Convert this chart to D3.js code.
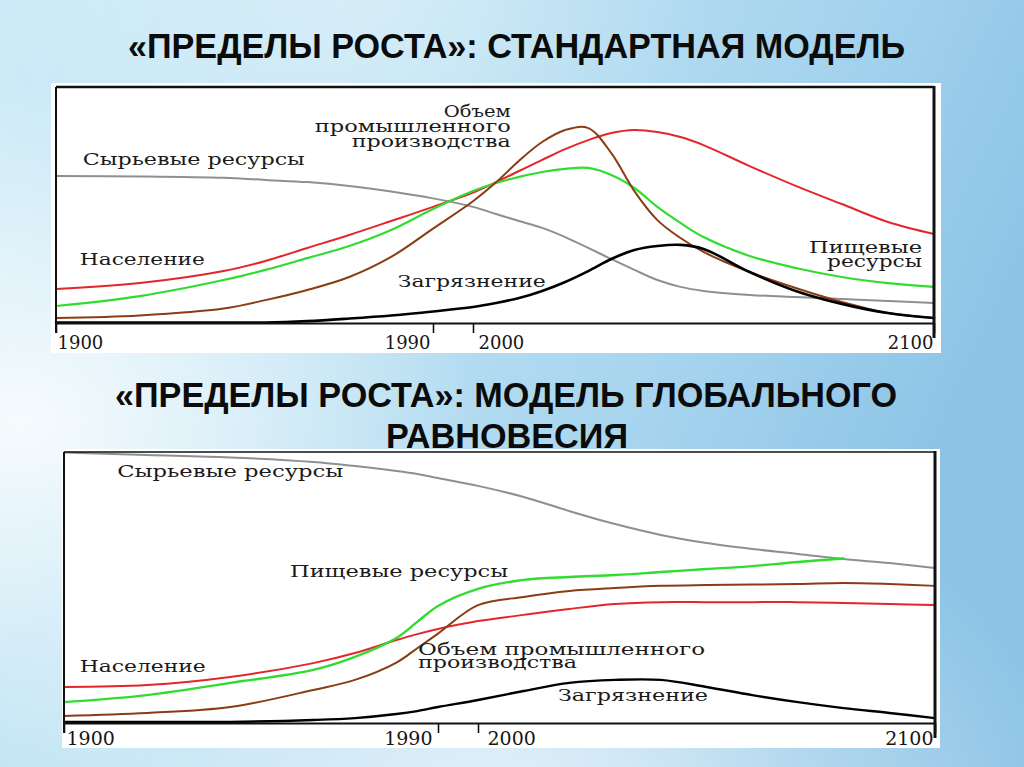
<!DOCTYPE html>
<html>
<head>
<meta charset="utf-8">
<script src="https://cdn.jsdelivr.net/npm/d3@7"></script>
<style>
  html, body { margin: 0; padding: 0; overflow: hidden; background: #cfe7f3; }
</style>
</head>
<body>
<svg id="slide" width="1024" height="767"></svg>
<script>
// ---- data (values in % of chart height) ----
var tickYears = [1900, 1990, 2000, 2100];

// standard model
var stdYears      = [1900,1920,1940,1950,1960,1970,1980,1990,2000,2005,2010,2015,2020,2025,2030,2035,2040,2045,2050,2060,2070,2080,2090,2100];
var stdRaw        = [62.3,62.1,61.5,60.6,59.7,58.1,55.7,52.8,49.2,46.2,43.2,40.3,36.4,31.8,27.1,22.5,18.2,15.3,13.6,11.9,11.0,10.2, 9.3, 8.5];
var stdPopulation = [14.4,16.9,22.0,26.3,31.8,37.3,43.2,49.2,55.3,59.7,64.4,69.1,73.7,77.5,80.5,81.8,80.9,78.8,75.4,66.5,58.1,50.4,42.8,37.7];
var stdFood       = [ 7.2,11.4,18.2,22.5,27.5,32.6,39.4,48.3,55.9,59.3,61.9,64.0,65.3,65.7,62.7,57.2,49.2,42.4,36.4,28.4,23.3,19.5,16.9,15.3];
var stdIndustry   = [ 2.1, 3.2, 6.1, 9.7,14.0,19.5,28.0,40.0,51.6,59.6,68.8,76.7,81.8,82.6,72.0,55.9,43.6,36.0,30.1,21.6,14.8, 8.9, 4.2, 2.1];
var stdPollution  = [ 0.2, 0.2, 0.2, 0.2, 0.8, 1.9, 3.2, 4.9, 6.8, 8.5,10.6,13.6,17.4,22.0,27.1,30.9,32.6,33.1,31.4,21.6,13.6, 8.1, 4.2, 2.1];

// global equilibrium model
var eqYears      = [1900,1920,1940,1960,1970,1980,1985,1990,2000,2010,2020,2030,2040,2050,2060,2070,2080,2090,2100];
var eqRaw        = [99.8,98.9,98.0,96.3,94.8,93.0,91.9,90.4,87.5,83.4,78.2,73.4,69.4,66.4,64.2,62.4,60.5,59.0,57.2];
var eqPopulation = [13.3,14.0,17.0,22.1,25.8,30.6,32.8,34.7,37.6,39.9,42.1,43.9,44.6,44.6,44.6,44.6,44.3,43.9,43.5];
var eqFood       = [ 7.7,10.3,14.8,19.6,24.4,31.4,37.3,43.2,49.5,52.8,53.9,54.6,55.7,56.8,57.9,59.4,60.7,null,null];
var eqIndustry   = [ 2.6, 3.7, 5.9,12.2,15.9,22.3,27.6,33.0,43.5,46.5,48.7,49.8,50.6,50.9,51.1,51.3,51.7,51.3,50.6];
var eqPollution  = [ 0.4, 0.4, 0.4, 1.1, 1.8, 3.3, 4.4, 5.9, 8.5,11.8,14.8,15.9,15.9,13.3,10.3, 7.7, 5.5, 3.7, 1.8];

// curve labels: [text, year, value, anchor, width]
var stdLabels = [
  ['Сырьевые ресурсы', 1906.4, 66.9, 'start', 222],
  ['Объем',            2008.2, 87.3, 'end',    67],
  ['промышленного',    2008.2, 80.9, 'end',   196],
  ['производства',     2008.2, 74.6, 'end',   159],
  ['Население',        1905.7, 24.4, 'start', 125],
  ['Загрязнение',      1981.6, 15.4, 'start', 148],
  ['Пищевые',          2097.4, 29.7, 'end',   113],
  ['ресурсы',          2097.4, 23.6, 'end',    95]
];
var eqLabels = [
  ['Сырьевые ресурсы',    1912.8, 90.9, 'start', 226],
  ['Пищевые ресурсы',     1954.4, 54.0, 'start', 218],
  ['Население',           1903.8, 18.9, 'start', 126],
  ['Объем промышленного', 1985.2, 25.1, 'start', 287],
  ['производства',        1985.2, 20.3, 'start', 159],
  ['Загрязнение',         2017.5,  8.1, 'start', 150]
];

var colors = { raw: '#8f8f8f', pop: '#e3262c', food: '#2fdc2f', ind: '#8a3c12', pol: '#000000' };
var serif = '"DejaVu Serif", "Liberation Serif", serif';
var narrow = '"Liberation Sans Narrow", "Liberation Sans", Arial, sans-serif';

var svg = d3.select('#slide');
var defs = svg.append('defs');

// ---- sky background ----
var sky = defs.append('linearGradient').attr('id', 'sky')
  .attr('x1', 0).attr('y1', 0).attr('x2', 1).attr('y2', 0.35);
[['0', '#cdebf7'], ['0.4', '#bde2f3'], ['0.75', '#a5d3ee'], ['1', '#8dc4e6']].forEach(function (s) {
  sky.append('stop').attr('offset', s[0]).attr('stop-color', s[1]);
});
function haze(id, cx, cy, r, op) {
  var rg = defs.append('radialGradient').attr('id', id).attr('cx', cx).attr('cy', cy).attr('r', r);
  rg.append('stop').attr('offset', 0).attr('stop-color', '#fff').attr('stop-opacity', op);
  rg.append('stop').attr('offset', 1).attr('stop-color', '#fff').attr('stop-opacity', 0);
}
haze('hazeL', 0.02, 0.55, 0.45, 0.85);
haze('hazeB', 0.5, 1.1, 0.55, 0.75);
haze('hazeT', 0.35, 0.0, 0.35, 0.35);

svg.append('rect').attr('width', 1024).attr('height', 767).attr('fill', 'url(#sky)');
svg.append('rect').attr('width', 1024).attr('height', 767).attr('fill', 'url(#hazeL)');
svg.append('rect').attr('width', 1024).attr('height', 767).attr('fill', 'url(#hazeB)');
svg.append('rect').attr('width', 1024).attr('height', 767).attr('fill', 'url(#hazeT)');

// ---- titles ----
function title(txt, x, y, w) {
  svg.append('text')
    .attr('x', x).attr('y', y)
    .attr('font-family', narrow).attr('font-weight', 'bold').attr('font-size', 35)
    .attr('fill', '#0b0b0b')
    .attr('textLength', w).attr('lengthAdjust', 'spacingAndGlyphs')
    .text(txt);
}
title('«ПРЕДЕЛЫ РОСТА»: СТАНДАРТНАЯ МОДЕЛЬ', 128, 58, 777);
title('«ПРЕДЕЛЫ РОСТА»: МОДЕЛЬ ГЛОБАЛЬНОГО', 115, 407, 782);
title('РАВНОВЕСИЯ', 386, 448, 242);

// ---- one chart panel ----
function drawChart(c) {
  var x = d3.scaleLinear().domain(tickYears).range(c.xRange);
  var y = d3.scaleLinear().domain([0, 100]).range([c.axisY, c.topY]);

  svg.append('rect')
    .attr('x', c.panel[0]).attr('y', c.panel[1])
    .attr('width', c.panel[2]).attr('height', c.panel[3])
    .attr('fill', '#fff');

  var g = svg.append('g');

  // curves
  var line = d3.line()
    .defined(function (d) { return d[1] != null; })
    .x(function (d) { return x(d[0]); })
    .y(function (d) { return y(d[1]); })
    .curve(d3.curveCatmullRom.alpha(0.5));

  c.series.forEach(function (s) {
    g.append('path')
      .datum(c.years.map(function (yr, i) { return [yr, s.values[i]]; }))
      .attr('d', line)
      .attr('fill', 'none')
      .attr('stroke', s.color)
      .attr('stroke-width', s.width)
      .attr('stroke-linejoin', 'round')
      .attr('stroke-linecap', 'round');
  });

  // frame
  g.append('line')
    .attr('x1', x(1900)).attr('x2', x(2100)).attr('y1', y(100)).attr('y2', y(100))
    .attr('stroke', '#111').attr('stroke-width', c.topW);
  g.append('line')
    .attr('x1', x(1900)).attr('x2', x(1900)).attr('y1', y(100)).attr('y2', c.axisY + c.leftExt)
    .attr('stroke', '#111').attr('stroke-width', 2);
  g.append('line')
    .attr('x1', x(2100)).attr('x2', x(2100)).attr('y1', y(100) - 1).attr('y2', c.axisY + c.rightExt)
    .attr('stroke', '#111').attr('stroke-width', 3);

  // axis
  var ax = g.append('g')
    .attr('transform', 'translate(0,' + c.axisY + ')')
    .call(d3.axisBottom(x)
      .tickValues(tickYears)
      .tickSizeInner(10)
      .tickSizeOuter(0)
      .tickPadding(c.pad)
      .tickFormat(d3.format('d')));
  ax.select('.domain').attr('stroke', '#111').attr('stroke-width', 2);
  ax.selectAll('.tick line').attr('stroke', '#111').attr('stroke-width', 1.6);
  ax.selectAll('.tick text')
    .attr('font-family', serif)
    .attr('font-size', c.tickFont)
    .attr('fill', '#161616')
    .attr('text-anchor', function (d, i) { return ['start', 'end', 'start', 'end'][i]; })
    .attr('dx', function (d, i) { return c.tickDx[i]; });

  // curve labels
  c.labels.forEach(function (l) {
    var px = x(l[1]);
    if (l[3] === 'end') px = px - l[4];
    g.append('text')
      .attr('x', px).attr('y', y(l[2]))
      .attr('font-family', serif).attr('font-size', 17)
      .attr('fill', '#1a1a1a')
      .attr('textLength', l[4]).attr('lengthAdjust', 'spacingAndGlyphs')
      .text(l[0]);
  });
}

drawChart({
  panel: [51, 83, 890, 270],
  xRange: [56, 433, 473, 934],
  topY: 87, axisY: 323, topW: 2.5,
  leftExt: 10, rightExt: 15,
  pad: 3, tickFont: 18, tickDx: [1, -3, 5, -1],
  years: stdYears,
  series: [
    { values: stdRaw,        color: colors.raw,  width: 2 },
    { values: stdPopulation, color: colors.pop,  width: 2 },
    { values: stdFood,       color: colors.food, width: 2.2 },
    { values: stdIndustry,   color: colors.ind,  width: 2 },
    { values: stdPollution,  color: colors.pol,  width: 2.6 }
  ],
  labels: stdLabels
});

drawChart({
  panel: [62, 449, 878, 299],
  xRange: [64, 438, 478, 935],
  topY: 452, axisY: 723, topW: 1.5,
  leftExt: 10, rightExt: 15,
  pad: -1, tickFont: 19, tickDx: [2, -6, 9, -2],
  years: eqYears,
  series: [
    { values: eqRaw,        color: colors.raw,  width: 2 },
    { values: eqPopulation, color: colors.pop,  width: 2 },
    { values: eqFood,       color: colors.food, width: 2.4 },
    { values: eqIndustry,   color: colors.ind,  width: 2 },
    { values: eqPollution,  color: colors.pol,  width: 2.4 }
  ],
  labels: eqLabels
});
</script>
</body>
</html>
